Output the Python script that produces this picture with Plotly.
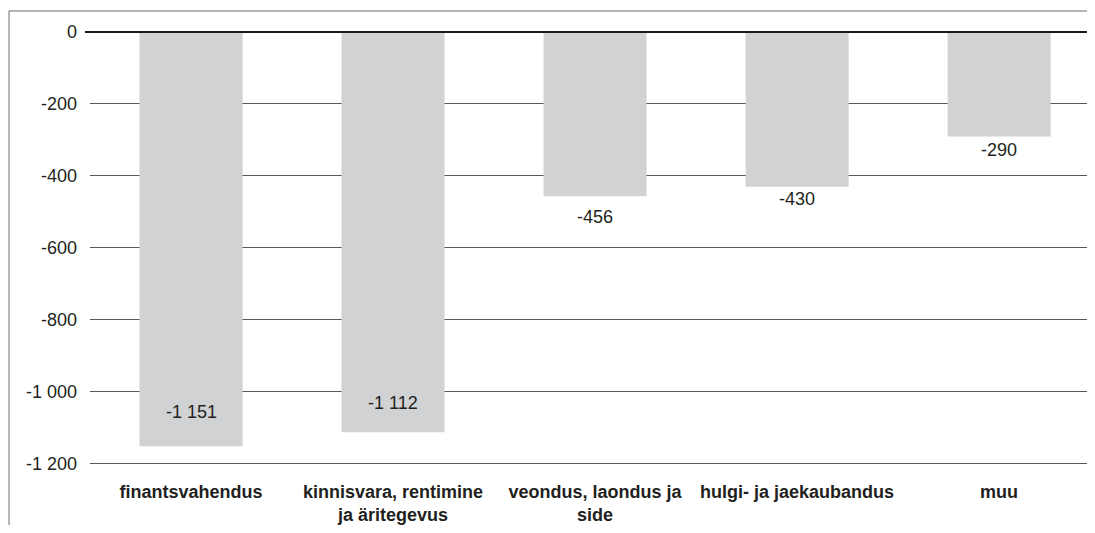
import plotly.graph_objects as go

categories = ["finantsvahendus", "kinnisvara, rentimine<br>ja äritegevus",
              "veondus, laondus ja<br>side", "hulgi- ja jaekaubandus", "muu"]
values = [-1151, -1112, -456, -430, -290]
tick_vals = [0, -200, -400, -600, -800, -1000, -1200]
tick_text = ["0", "-200", "-400", "-600", "-800", "-1 000", "-1 200"]
label_shift = [34, 29, -21, -12, -14]  # pixel offsets of value labels (style)

FONT = "Liberation Sans, Arial, Helvetica, sans-serif"
TXT = "#231f20"

x = list(range(len(categories)))
fig = go.Figure()
fig.add_trace(go.Bar(x=x, y=values, width=0.51, marker=dict(color="#d1d2d4", line=dict(width=0)),
                     hoverinfo="skip"))

for i, v in enumerate(values):
    fig.add_annotation(x=i, y=v, text=f"{v:,}".replace(",", " "), showarrow=False,
                       yshift=label_shift[i], font=dict(family=FONT, size=18, color=TXT),
                       xref="x", yref="y")

# zero line
fig.add_shape(type="line", xref="paper", yref="y", x0=-0.005, x1=1.0, y0=0, y1=0,
              line=dict(color="#1a1a1a", width=2), layer="above")
# frame (top and left)
fig.add_shape(type="line", xref="paper", yref="paper", x0=-0.0812, x1=1.02, y0=1.0315, y1=1.0315,
              line=dict(color="#6d6e70", width=1))
fig.add_shape(type="line", xref="paper", yref="paper", x0=-0.0812, x1=-0.0812, y0=1.0315, y1=-0.2,
              line=dict(color="#6d6e70", width=1))

fig.update_layout(
    width=1079, height=517,
    margin=dict(l=82, r=0, t=17, b=55),
    paper_bgcolor="white", plot_bgcolor="white",
    showlegend=False,
    font=dict(family=FONT, size=18, color=TXT),
    xaxis=dict(range=[-0.5, 4.435], tickvals=x, ticktext=[f"<b>{c}</b>" for c in categories],
               showgrid=False, zeroline=False, showline=False, ticks="", automargin=False,
               tickfont=dict(family=FONT, size=18, color=TXT), ticklabelstandoff=9, fixedrange=True),
    yaxis=dict(range=[-1216.7, 19.4], tickvals=tick_vals, ticktext=tick_text,
               showgrid=True, gridcolor="#58595b", gridwidth=1, zeroline=False, showline=False,
               ticks="", ticklabelstandoff=12, automargin=False,
               tickfont=dict(family=FONT, size=18, color=TXT), fixedrange=True),
    bargap=0.49,
)

fig.write_html("out.html")
